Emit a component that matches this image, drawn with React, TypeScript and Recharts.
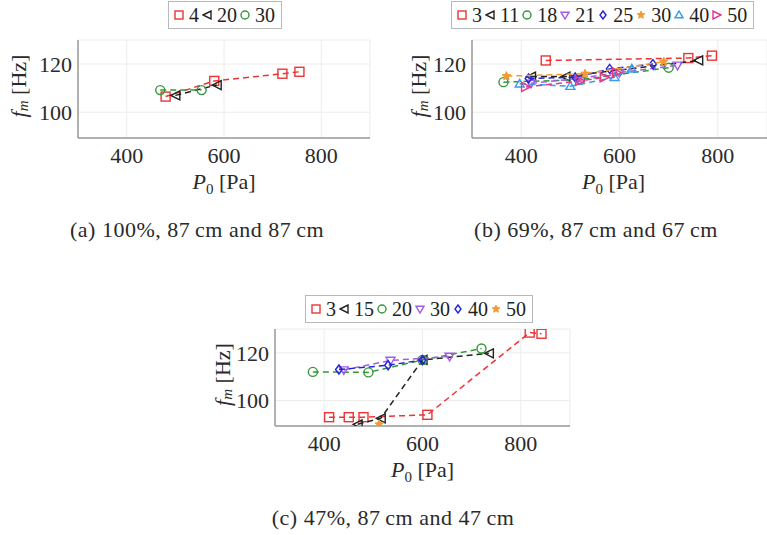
import React from 'react';
import { ScatterChart, Scatter, XAxis, YAxis, CartesianGrid } from 'recharts';

// ---- data: P0 [Pa] and f_m [Hz] for each series ----
// (a) 100%, 87 cm and 87 cm
const aP4 = [480, 580, 720, 755];
const aF4 = [106.5, 113, 116, 116.8];
const aP20 = [500, 585];
const aF20 = [107, 111.3];
const aP30 = [469, 554];
const aF30 = [109.2, 109.2];

// (b) 69%, 87 cm and 67 cm
const bP3 = [450, 740, 788];
const bF3 = [121.5, 122.5, 123.5];
const bP11 = [420, 490, 760];
const bF11 = [114.8, 114.8, 121.5];
const bP18 = [364, 520, 700];
const bF18 = [112.5, 113.5, 118.5];
const bP21 = [420, 515, 600, 718];
const bF21 = [112, 114, 116.5, 119.5];
const bP25 = [415, 510, 580, 668];
const bF25 = [114, 114.5, 118, 120];
const bP30 = [370, 530, 690];
const bF30 = [115, 116, 121];
const bP40 = [397, 500, 590, 625];
const bF40 = [111.8, 110.8, 114.5, 118];
const bP50 = [410, 520, 570, 595];
const bF50 = [110.5, 113, 114.5, 116.5];

// (c) 47%, 87 cm and 47 cm
const cP3 = [410, 450, 480, 610, 818, 842];
const cF3 = [93, 93, 93, 94, 128.5, 128];
const cP15 = [468, 515, 600, 735];
const cF15 = [90, 92.5, 117, 119.8];
const cP20 = [377, 490, 600, 720];
const cF20 = [112, 111.8, 117, 121.8];
const cP30 = [440, 535, 655];
const cF30 = [112.8, 116.8, 118.5];
const cP40 = [430, 530, 600];
const cF40 = [113, 114.8, 117];
const cP50 = [512];
const cF50 = [90];

const xTicks = [400, 600, 800];
const yTicks = [100, 120];

const captions = ['(a) 100%, 87\u2009cm and 87\u2009cm', '(b) 69%, 87\u2009cm and 67\u2009cm', '(c) 47%, 87\u2009cm and 47\u2009cm'];

const RED = '#ec3434';
const BLACK = '#222';
const GREEN = '#34983a';
const PURPLE = '#a45ce6';
const BLUE = '#2323d8';
const ORANGE = '#f29a2e';
const CYAN = '#3a9aee';
const PINK = '#e4358e';

type Kind = 'square' | 'left' | 'circle' | 'down' | 'diamond' | 'star' | 'up' | 'right';
type Series = { label: string; kind: Kind; color: string; data: { x: number; y: number }[] };

const zip = (p: number[], f: number[]) => p.map((x, i) => ({ x, y: f[i] }));

const seriesA: Series[] = [
  { label: '4', kind: 'square', color: RED, data: zip(aP4, aF4) },
  { label: '20', kind: 'left', color: BLACK, data: zip(aP20, aF20) },
  { label: '30', kind: 'circle', color: GREEN, data: zip(aP30, aF30) },
];

const seriesB: Series[] = [
  { label: '3', kind: 'square', color: RED, data: zip(bP3, bF3) },
  { label: '11', kind: 'left', color: BLACK, data: zip(bP11, bF11) },
  { label: '18', kind: 'circle', color: GREEN, data: zip(bP18, bF18) },
  { label: '21', kind: 'down', color: PURPLE, data: zip(bP21, bF21) },
  { label: '25', kind: 'diamond', color: BLUE, data: zip(bP25, bF25) },
  { label: '30', kind: 'star', color: ORANGE, data: zip(bP30, bF30) },
  { label: '40', kind: 'up', color: CYAN, data: zip(bP40, bF40) },
  { label: '50', kind: 'right', color: PINK, data: zip(bP50, bF50) },
];

const seriesC: Series[] = [
  { label: '3', kind: 'square', color: RED, data: zip(cP3, cF3) },
  { label: '15', kind: 'left', color: BLACK, data: zip(cP15, cF15) },
  { label: '20', kind: 'circle', color: GREEN, data: zip(cP20, cF20) },
  { label: '30', kind: 'down', color: PURPLE, data: zip(cP30, cF30) },
  { label: '40', kind: 'diamond', color: BLUE, data: zip(cP40, cF40) },
  { label: '50', kind: 'star', color: ORANGE, data: zip(cP50, cF50) },
];

const FONT = 'Liberation Serif, Tinos, DejaVu Serif, serif';

function Marker({ kind, cx, cy, color, s }: { kind: Kind; cx: number; cy: number; color: string; s: number }) {
  const r = s / 2;
  const common = { fill: 'none', stroke: color, strokeWidth: 1.4 };
  switch (kind) {
    case 'square':
      return <rect x={cx - r} y={cy - r} width={s} height={s} {...common} />;
    case 'circle':
      return <circle cx={cx} cy={cy} r={r} {...common} />;
    case 'left':
      return <polygon points={`${cx - r},${cy} ${cx + r},${cy - r} ${cx + r},${cy + r}`} {...common} />;
    case 'right':
      return <polygon points={`${cx + r},${cy} ${cx - r},${cy - r} ${cx - r},${cy + r}`} {...common} />;
    case 'down':
      return <polygon points={`${cx - r},${cy - r * 0.7} ${cx + r},${cy - r * 0.7} ${cx},${cy + r}`} {...common} />;
    case 'up':
      return <polygon points={`${cx - r},${cy + r * 0.7} ${cx + r},${cy + r * 0.7} ${cx},${cy - r}`} {...common} />;
    case 'diamond':
      return <polygon points={`${cx},${cy - r} ${cx + r * 0.75},${cy} ${cx},${cy + r} ${cx - r * 0.75},${cy}`} {...common} />;
    case 'star': {
      const pts: string[] = [];
      for (let i = 0; i < 10; i++) {
        const a = -Math.PI / 2 + (i * Math.PI) / 5;
        const rr = i % 2 === 0 ? r : r * 0.45;
        pts.push(`${cx + rr * Math.cos(a)},${cy + rr * Math.sin(a)}`);
      }
      return <polygon points={pts.join(' ')} fill={color} stroke={color} strokeWidth={1} />;
    }
  }
  return null;
}

function LegendBox({ series, left, top }: { series: Series[]; left: number; top: number }) {
  return (
    <div
      style={{
        position: 'absolute',
        left,
        top,
        height: 26,
        display: 'flex',
        alignItems: 'center',
        border: '1px solid #b8b8b8',
        background: '#fff',
        padding: '0 3px 0 5px',
        fontFamily: FONT,
        fontSize: 20,
        color: '#222',
        whiteSpace: 'nowrap',
      }}
    >
      {series.map((s) => (
        <React.Fragment key={s.label + s.kind}>
          <svg width={10} height={10} style={{ marginRight: 5 }}>
            <Marker kind={s.kind} cx={5} cy={5} color={s.color} s={8} />
          </svg>
          <span style={{ marginRight: 3 }}>{s.label}</span>
        </React.Fragment>
      ))}
    </div>
  );
}

function Panel({
  series,
  left,
  top,
  width,
  height,
  marginTop,
  marginRight,
  yAxisWidth,
  yLabelX,
  xLabelDx,
}: {
  series: Series[];
  left: number;
  top: number;
  width: number;
  height: number;
  marginTop: number;
  marginRight: number;
  yAxisWidth: number;
  yLabelX: number;
  xLabelDx: number;
}) {
  const tickStyle = { fontFamily: FONT, fontSize: 22, fill: '#2a2a2a' };
  return (
    <div style={{ position: 'absolute', left, top }}>
      <ScatterChart width={width} height={height} margin={{ top: marginTop, right: marginRight, bottom: 0, left: 0 }}>
        <CartesianGrid stroke="#ececec" strokeWidth={1} />
        <XAxis
          type="number"
          dataKey="x"
          domain={[300, 900]}
          ticks={xTicks}
          allowDataOverflow
          height={67}
          tickLine={false}
          tickSize={6}
          tickMargin={3}
          axisLine={{ stroke: '#9a9a9a', strokeWidth: 1.5 }}
          tick={tickStyle}
          label={{
            content: ({ viewBox }: any) => (
              <text
                x={viewBox.x + viewBox.width / 2 + xLabelDx}
                y={viewBox.y + 51}
                textAnchor="middle"
                fontFamily={FONT}
                fontSize={22}
                fill="#2a2a2a"
              >
                <tspan fontStyle="italic">P</tspan>
                <tspan fontSize={15} dy={5}>0</tspan>
                <tspan dy={-5}> [Pa]</tspan>
              </text>
            ),
          }}
        />
        <YAxis
          type="number"
          dataKey="y"
          domain={[89.3, 130]}
          ticks={yTicks}
          allowDataOverflow
          width={yAxisWidth}
          tickLine={false}
          tickSize={4}
          tickMargin={2}
          axisLine={{ stroke: '#9a9a9a', strokeWidth: 1.5 }}
          tick={tickStyle}
          label={{
            content: ({ viewBox }: any) => {
              const cx = viewBox.x + yLabelX;
              const cy = viewBox.y + viewBox.height / 2 - 3;
              return (
                <text
                  x={cx}
                  y={cy}
                  transform={`rotate(-90 ${cx} ${cy})`}
                  textAnchor="middle"
                  dominantBaseline="central"
                  fontFamily={FONT}
                  fontSize={22}
                  fill="#2a2a2a"
                >
                  <tspan fontStyle="italic">f</tspan>
                  <tspan fontStyle="italic" fontSize={15} dy={5}>m</tspan>
                  <tspan dy={-5}> [Hz]</tspan>
                </text>
              );
            },
          }}
        />
        {series.map((s) => (
          <Scatter
            key={s.label + s.kind}
            data={s.data}
            isAnimationActive={false}
            fill={s.color}
            line={{ stroke: s.color, strokeWidth: 1.5, strokeDasharray: '6 4' }}
            lineType="joint"
            shape={(p: any) => <Marker kind={s.kind} cx={p.cx} cy={p.cy} color={s.color} s={9} />}
          />
        ))}
      </ScatterChart>
    </div>
  );
}

const captionStyle: React.CSSProperties = {
  position: 'absolute',
  fontFamily: FONT,
  fontSize: 22,
  letterSpacing: 0.5,
  color: '#2a2a2a',
  whiteSpace: 'nowrap',
  transform: 'translateX(-50%)',
};

export default function App() {
  return (
    <div style={{ position: 'absolute', left: 0, top: 0, width: 767, height: 535, background: '#fff', overflow: 'hidden', fontFamily: FONT }}>
      <Panel series={seriesA} left={0} top={0} width={380} height={205} marginTop={40} marginRight={10} yAxisWidth={78} yLabelX={18} xLabelDx={0} />
      <Panel series={seriesB} left={380} top={0} width={387} height={205} marginTop={40} marginRight={0} yAxisWidth={92} yLabelX={38} xLabelDx={-6} />
      <Panel series={seriesC} left={190} top={290} width={390} height={203} marginTop={39} marginRight={10} yAxisWidth={85} yLabelX={32} xLabelDx={0} />

      <LegendBox series={seriesA} left={168} top={1} />
      <LegendBox series={seriesB} left={451} top={1} />
      <LegendBox series={seriesC} left={305} top={295} />

      <div style={{ ...captionStyle, left: 197, top: 217 }}>{captions[0]}</div>
      <div style={{ ...captionStyle, left: 596, top: 217 }}>{captions[1]}</div>
      <div style={{ ...captionStyle, left: 393, top: 505 }}>{captions[2]}</div>
    </div>
  );
}
